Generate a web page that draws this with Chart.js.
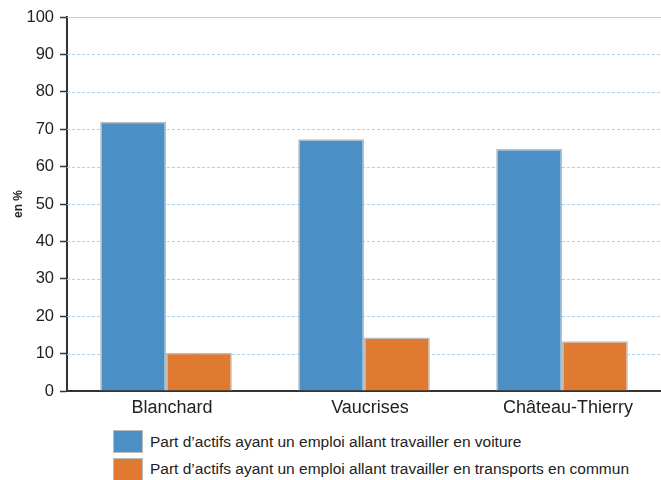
<!DOCTYPE html>
<html>
<head>
<meta charset="utf-8">
<script src="https://cdn.jsdelivr.net/npm/chart.js@4/dist/chart.umd.min.js"></script>
<style>
  html, body { margin: 0; padding: 0; background: #fff; }
  #wrap { position: relative; width: 661px; height: 480px; font-family: "Liberation Sans", Arial, sans-serif; }
  #box { position: absolute; left: 0; top: 0; width: 661px; height: 425px; }
  #legend { position: absolute; left: 113px; top: 428px; }
  .item { display: flex; align-items: center; height: 27.5px; font-size: 15.5px; color: #222; white-space: nowrap; }
  .swatch { width: 30px; height: 23px; margin-right: 7px; border: 1px solid #bbb; box-sizing: border-box; }
</style>
</head>
<body>
<div id="wrap">
  <div id="box"><canvas id="chart"></canvas></div>
  <div id="legend"></div>
</div>
<script>
// Moyens de transport des actifs — données
const categories = ['Blanchard', 'Vaucrises', 'Château-Thierry'];
const voiture = [72, 67.3, 64.7];
const transports = [10.2, 14.3, 13.3];
const seriesLabels = [
  'Part d’actifs ayant un emploi allant travailler en voiture',
  'Part d’actifs ayant un emploi allant travailler en transports en commun',
];
const seriesColors = ['#4a90c6', '#e17a31'];
const FONT = '"Liberation Sans", sans-serif';

// Lignes de grille horizontales : pointillées, la ligne du haut pleine
const gridPlugin = {
  id: 'dashedGrid',
  beforeDatasetsDraw(chart) {
    const { ctx, chartArea, scales } = chart;
    const y = scales.y;
    ctx.save();
    ctx.lineWidth = 1;
    ctx.strokeStyle = '#a6d6f0';
    for (const t of y.ticks) {
      if (t.value === 0) continue;
      const py = Math.round(y.getPixelForValue(t.value)) + 0.5;
      ctx.setLineDash(t.value === 100 ? [] : [3, 2]);
      ctx.beginPath();
      ctx.moveTo(chartArea.left, py);
      ctx.lineTo(chartArea.right, py);
      ctx.stroke();
    }
    ctx.restore();
  },
};

new Chart(document.getElementById('chart'), {
  type: 'bar',
  plugins: [gridPlugin],
  data: {
    labels: categories,
    datasets: [
      { label: seriesLabels[0], data: voiture, backgroundColor: seriesColors[0] },
      { label: seriesLabels[1], data: transports, backgroundColor: seriesColors[1] },
    ].map((d) => ({ ...d, borderColor: '#bdbdbd', borderWidth: 1.5, borderSkipped: 'bottom' })),
  },
  options: {
    responsive: true,
    maintainAspectRatio: false,
    animation: false,
    layout: { padding: { top: 17, right: 0, left: 0, bottom: 0 } },
    datasets: { bar: { categoryPercentage: 0.665, barPercentage: 1 } },
    plugins: {
      legend: { display: false },
      tooltip: { enabled: false },
    },
    scales: {
      x: {
        grid: { display: false },
        border: { display: true, color: '#333', width: 2 },
        ticks: {
          color: '#222',
          font: { family: FONT, size: 18 },
          padding: -2,
          labelOffset: 6,
          maxRotation: 0,
        },
        afterFit: (s) => { s.height = 425 - 391; },
      },
      y: {
        min: 0,
        max: 100,
        ticks: {
          stepSize: 10,
          color: '#222',
          font: { family: FONT, size: 16.5 },
          padding: 6,
        },
        grid: { drawOnChartArea: false, drawTicks: true, tickLength: 7, tickColor: '#333', tickWidth: 1.5 },
        border: { display: true, color: '#333', width: 2 },
        title: {
          display: true,
          text: 'en %',
          color: '#222',
          font: { family: FONT, size: 12, weight: 'bold' },
          padding: { top: 11, bottom: 0 },
        },
        afterFit: (s) => { s.width = 67; },
      },
    },
  },
});

// Légende en HTML, à partir des mêmes tableaux
const legend = document.getElementById('legend');
seriesLabels.forEach((label, i) => {
  const row = document.createElement('div');
  row.className = 'item';
  row.innerHTML = `<span class="swatch" style="background:${seriesColors[i]}"></span><span>${label}</span>`;
  legend.appendChild(row);
});
</script>
</body>
</html>
